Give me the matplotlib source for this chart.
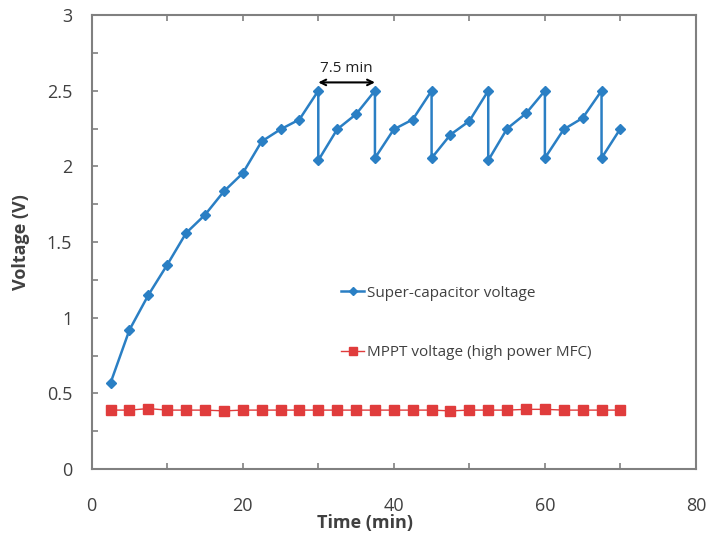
import numpy as np
import matplotlib.pyplot as plt
from matplotlib.ticker import MultipleLocator

# super-capacitor voltage (sawtooth: each peak drops back at the same time)
cap_time = [2.5, 5, 7.5, 10, 12.5, 15, 17.5, 20, 22.5, 25, 27.5,
            30, 30, 32.5, 35, 37.5, 37.5, 40, 42.5, 45, 45, 47.5, 50,
            52.5, 52.5, 55, 57.5, 60, 60, 62.5, 65, 67.5, 67.5, 70]
cap_volt = [0.57, 0.92, 1.15, 1.35, 1.56, 1.68, 1.835, 1.955, 2.165, 2.245, 2.31,
            2.50, 2.04, 2.245, 2.345, 2.50, 2.055, 2.245, 2.31, 2.50, 2.055, 2.21, 2.30,
            2.50, 2.04, 2.25, 2.35, 2.50, 2.055, 2.245, 2.32, 2.50, 2.055, 2.25]

# MPPT voltage (high power MFC)
mppt_time = np.arange(2.5, 70.01, 2.5)
mppt_volt = [0.39, 0.39, 0.40, 0.39, 0.39, 0.39, 0.385, 0.39, 0.39, 0.39,
             0.39, 0.39, 0.39, 0.39, 0.39, 0.39, 0.39, 0.39, 0.385, 0.39,
             0.39, 0.39, 0.395, 0.395, 0.39, 0.39, 0.39, 0.39]

blue = '#2a7fc4'
red = '#e03c3c'
grey = '#808080'
txt = '#404040'

plt.rcParams['font.family'] = ['Open Sans', 'DejaVu Sans']

fig = plt.figure(figsize=(7.08, 5.38), dpi=100)
ax = fig.add_axes([0.1295, 0.128, 0.8535, 0.844])

ax.plot(mppt_time, mppt_volt, color=red, lw=1.0, marker='s', ms=7.5,
        label='MPPT voltage (high power MFC)')
ax.plot(cap_time, cap_volt, color=blue, lw=1.8, marker='D', ms=5,
        label='Super-capacitor voltage')

ax.set_xlim(0, 80)
ax.set_ylim(0, 3)
ax.xaxis.set_major_locator(MultipleLocator(20))
ax.xaxis.set_minor_locator(MultipleLocator(10))
ax.yaxis.set_major_locator(MultipleLocator(0.5))
ax.yaxis.set_minor_locator(MultipleLocator(0.25))
ax.set_yticks([0, 0.5, 1, 1.5, 2, 2.5, 3])
ax.set_yticklabels(['0', '0.5', '1', '1.5', '2', '2.5', '3'])

for s in ax.spines.values():
    s.set_color(grey)
    s.set_linewidth(1.5)
ax.tick_params(which='both', direction='in', colors=grey, labelcolor=txt,
               length=4, width=1.2, top=True, labelsize=13)
ax.tick_params(axis='x', pad=20)
ax.tick_params(axis='y', pad=14)

ax.set_xlabel('Time (min)', fontsize=13, fontweight='bold', color=txt)
ax.set_ylabel('Voltage (V)', fontsize=13, fontweight='bold', color=txt)
ax.xaxis.set_label_coords(0.452, -0.098)
ax.yaxis.set_label_coords(-0.102, 0.5)

# 7.5 min period annotation
ax.annotate('', xy=(30, 2.555), xytext=(37.5, 2.555),
            arrowprops=dict(arrowstyle='<->', color='black', lw=1.5,
                            shrinkA=0, shrinkB=0))
ax.text(33.75, 2.6, '7.5 min', ha='center', va='bottom', fontsize=11, color='#222222')

h, l = ax.get_legend_handles_labels()
ax.legend(h[::-1], l[::-1], loc='upper left', bbox_to_anchor=(0.39, 0.434),
          frameon=False, fontsize=11, labelspacing=2.9, handlelength=1.5,
          handletextpad=0.2, labelcolor=txt, markerscale=0.85)

fig.savefig('out.png', dpi=100)
